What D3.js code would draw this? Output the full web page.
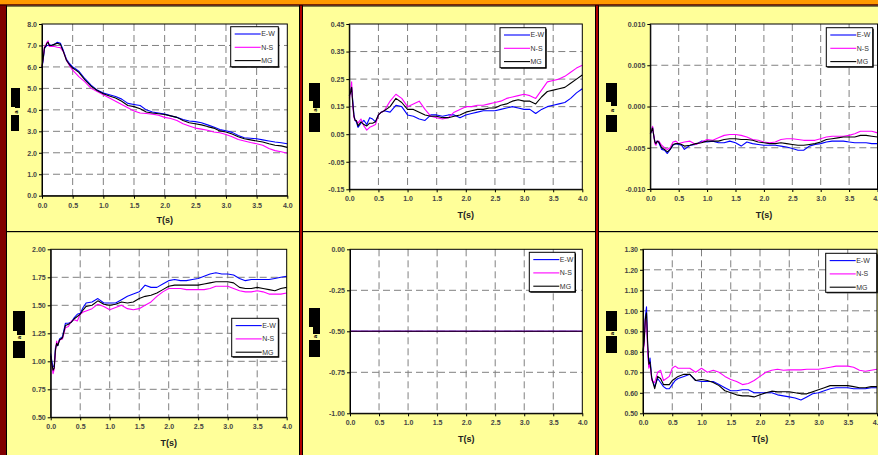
<!DOCTYPE html>
<html>
<head>
<meta charset="utf-8">
<script src="https://cdn.jsdelivr.net/npm/d3@7/dist/d3.min.js"></script>
<style>
  html, body { margin: 0; padding: 0; background: #800000; }
  svg { display: block; }
</style>
</head>
<body>
<svg id="chart" width="878" height="455"></svg>
<script>
// Periods shared by the response curves (s)
const periods = [0, 0.02, 0.04, 0.06, 0.08, 0.1, 0.12, 0.15, 0.2, 0.25, 0.3, 0.35, 0.4, 0.45, 0.5, 0.55,
  0.6, 0.7, 0.8, 0.9, 1.0, 1.1, 1.2, 1.3, 1.4, 1.5, 1.6, 1.7, 1.8, 1.9, 2.0, 2.1, 2.2, 2.3, 2.4, 2.5,
  2.6, 2.7, 2.8, 2.9, 3.0, 3.1, 3.2, 3.3, 3.4, 3.5, 3.6, 3.7, 3.8, 3.9, 4.0];
const periodsFlat = [0, 4.0];

const seriesNames = ["E-W", "N-S", "MG"];
const seriesColors = ["#0000FF", "#FF00FF", "#000000"];

// Panel 1
const ew1 = [5.95,6.35,6.85,6.95,7.0,7.0,7.05,7.0,7.05,7.15,7.1,6.75,6.35,6.15,6.0,5.9,
  5.8,5.45,5.15,4.92,4.78,4.7,4.62,4.5,4.3,4.25,4.2,4.0,3.9,3.85,3.8,3.72,3.65,3.55,3.48,3.45,
  3.4,3.3,3.2,3.08,3.03,2.95,2.8,2.7,2.68,2.65,2.6,2.55,2.5,2.47,2.42];
const ns1 = [6.0,6.45,6.95,7.0,7.15,7.22,6.95,6.95,6.95,6.92,6.9,6.7,6.3,6.05,5.85,5.7,
  5.55,5.3,5.0,4.85,4.7,4.55,4.4,4.25,4.1,3.95,3.85,3.83,3.8,3.75,3.65,3.6,3.5,3.35,3.25,3.15,
  3.1,3.05,2.97,2.93,2.85,2.75,2.62,2.55,2.48,2.42,2.35,2.2,2.1,2.05,1.98];
const mg1 = [6.0,6.4,6.9,6.95,7.1,7.15,7.0,7.0,7.05,7.1,7.05,6.7,6.3,6.1,5.95,5.85,
  5.75,5.4,5.1,4.9,4.75,4.65,4.55,4.4,4.2,4.15,4.05,3.9,3.85,3.82,3.78,3.72,3.65,3.5,3.4,3.35,
  3.3,3.22,3.15,3.02,2.97,2.87,2.75,2.65,2.6,2.55,2.5,2.42,2.35,2.32,2.25];

// Panel 2
const ew2 = [0.19,0.21,0.22,0.17,0.12,0.1,0.095,0.075,0.09,0.1,0.085,0.11,0.105,0.095,0.12,0.13,
  0.135,0.13,0.155,0.15,0.12,0.115,0.105,0.1,0.12,0.12,0.115,0.12,0.12,0.11,0.12,
  0.125,0.13,0.135,0.135,0.135,0.14,0.145,0.15,0.145,0.14,0.14,0.125,0.14,0.15,0.155,
  0.16,0.165,0.18,0.2,0.215];
const ns2 = [0.18,0.2,0.24,0.15,0.11,0.1,0.1,0.09,0.105,0.08,0.065,0.075,0.08,0.085,0.12,0.13,
  0.135,0.17,0.195,0.18,0.15,0.16,0.17,0.14,0.115,0.11,0.105,0.11,0.13,0.14,0.15,
  0.15,0.155,0.155,0.16,0.165,0.17,0.18,0.185,0.19,0.195,0.19,0.18,0.21,0.24,0.245,
  0.25,0.26,0.275,0.29,0.3];
const mg2 = [0.19,0.2,0.22,0.16,0.115,0.1,0.1,0.08,0.095,0.085,0.08,0.09,0.09,0.095,0.12,0.13,
  0.135,0.15,0.18,0.165,0.14,0.14,0.13,0.12,0.115,0.115,0.11,0.11,0.115,0.12,0.13,
  0.135,0.14,0.14,0.145,0.145,0.155,0.16,0.17,0.175,0.17,0.17,0.16,0.185,0.205,0.21,
  0.215,0.22,0.235,0.25,0.265];

// Panel 3
const ew3 = [-0.0033,-0.003,-0.0025,-0.0035,-0.0042,-0.0045,-0.0042,-0.0044,-0.0052,-0.0053,-0.0057,-0.0052,-0.0047,-0.0045,-0.0046,-0.0047,
  -0.0052,-0.0047,-0.0046,-0.0042,-0.0043,-0.0042,-0.0044,-0.0044,-0.0042,-0.0044,
  -0.0048,-0.0043,-0.0045,-0.0046,-0.0047,-0.0047,-0.0047,-0.0048,-0.0049,-0.0051,
  -0.0053,-0.0053,-0.0048,-0.0046,-0.0045,-0.0043,-0.0042,-0.0042,-0.0042,-0.0043,
  -0.0044,-0.0044,-0.0044,-0.0045,-0.0045];
const ns3 = [-0.0033,-0.003,-0.0024,-0.0034,-0.0045,-0.0047,-0.0042,-0.0042,-0.0047,-0.005,-0.0052,-0.005,-0.0043,-0.0042,-0.0045,-0.0044,
  -0.0043,-0.0042,-0.0046,-0.0043,-0.004,-0.0041,-0.0038,-0.0035,-0.0034,-0.0034,
  -0.0035,-0.0037,-0.004,-0.0041,-0.0043,-0.0044,-0.0043,-0.004,-0.0039,-0.0039,
  -0.004,-0.0041,-0.0041,-0.0041,-0.0039,-0.0037,-0.0036,-0.0036,-0.0036,-0.0035,
  -0.0033,-0.003,-0.003,-0.003,-0.0032];
const mg3 = [-0.0033,-0.003,-0.0026,-0.0035,-0.0043,-0.0045,-0.0042,-0.0043,-0.005,-0.0052,-0.0055,-0.0052,-0.0046,-0.0045,-0.0045,-0.0046,
  -0.0048,-0.0047,-0.0045,-0.0044,-0.0042,-0.0042,-0.0042,-0.004,-0.0039,-0.0039,
  -0.004,-0.004,-0.0041,-0.0043,-0.0044,-0.0045,-0.0045,-0.0044,-0.0045,-0.0046,
  -0.0047,-0.0047,-0.0046,-0.0045,-0.0043,-0.004,-0.0039,-0.0038,-0.0037,-0.0037,
  -0.0037,-0.0035,-0.0035,-0.0036,-0.0037];

// Panel 4
const ew4 = [1.07,1.0,0.95,0.96,1.12,1.15,1.14,1.2,1.22,1.34,1.34,1.35,1.39,1.42,1.43,1.48,
  1.52,1.53,1.56,1.52,1.52,1.52,1.55,1.58,1.6,1.62,1.68,1.66,1.66,1.69,1.72,
  1.73,1.72,1.72,1.73,1.74,1.76,1.78,1.79,1.78,1.78,1.77,1.74,1.72,1.73,1.73,
  1.73,1.73,1.74,1.75,1.76];
const ns4 = [1.03,0.97,0.89,0.93,1.08,1.18,1.15,1.19,1.2,1.3,1.31,1.36,1.37,1.36,1.42,1.44,
  1.45,1.47,1.51,1.49,1.46,1.48,1.5,1.47,1.46,1.47,1.5,1.53,1.58,1.62,1.65,
  1.65,1.65,1.64,1.64,1.64,1.64,1.65,1.67,1.67,1.67,1.65,1.63,1.62,1.62,1.63,
  1.62,1.6,1.6,1.6,1.61];
const mg4 = [1.05,0.98,0.92,0.94,1.1,1.16,1.14,1.19,1.21,1.32,1.33,1.35,1.38,1.4,1.42,1.46,
  1.49,1.5,1.54,1.51,1.5,1.51,1.53,1.52,1.53,1.56,1.58,1.59,1.61,1.64,1.67,
  1.68,1.68,1.68,1.68,1.68,1.69,1.7,1.71,1.71,1.71,1.7,1.66,1.65,1.65,1.66,
  1.65,1.64,1.63,1.65,1.66];

// Panel 5
const ew5 = [-0.5, -0.5];
const ns5 = [-0.5, -0.5];
const mg5 = [-0.5, -0.5];

// Panel 6
const ew6 = [0.8,0.86,0.97,1.02,0.82,0.73,0.77,0.67,0.63,0.67,0.65,0.63,0.62,0.62,0.64,0.66,
  0.67,0.68,0.69,0.66,0.655,0.655,0.655,0.64,0.625,0.61,0.61,0.615,0.615,0.6,0.6,
  0.6,0.6,0.59,0.585,0.58,0.575,0.565,0.58,0.595,0.6,0.61,0.62,0.625,0.625,0.625,
  0.62,0.62,0.62,0.625,0.625];
const ns6 = [0.78,0.84,0.96,0.95,0.8,0.72,0.74,0.66,0.65,0.7,0.71,0.66,0.67,0.68,0.72,0.73,
  0.72,0.72,0.72,0.7,0.72,0.7,0.71,0.7,0.68,0.665,0.655,0.64,0.645,0.66,0.68,
  0.7,0.71,0.715,0.71,0.712,0.712,0.712,0.715,0.715,0.715,0.72,0.725,0.73,0.73,0.73,
  0.725,0.71,0.705,0.71,0.715];
const mg6 = [0.8,0.85,0.96,0.99,0.84,0.74,0.75,0.67,0.62,0.68,0.67,0.64,0.64,0.64,0.66,0.67,
  0.68,0.69,0.69,0.66,0.665,0.66,0.65,0.635,0.61,0.6,0.59,0.585,0.585,0.58,0.59,
  0.6,0.608,0.605,0.605,0.605,0.6,0.595,0.595,0.605,0.615,0.625,0.635,0.635,0.635,0.635,
  0.63,0.625,0.625,0.63,0.63];

// Tick values
const xTicks = [0, 0.5, 1.0, 1.5, 2.0, 2.5, 3.0, 3.5, 4.0];
const yTicks1 = [0, 1, 2, 3, 4, 5, 6, 7, 8];
const yTicks2 = [-0.15, -0.05, 0.05, 0.15, 0.25, 0.35, 0.45];
const yTicks3 = [-0.010, -0.005, 0.000, 0.005, 0.010];
const yTicks4 = [0.50, 0.75, 1.00, 1.25, 1.50, 1.75, 2.00];
const yTicks5 = [-1.00, -0.75, -0.50, -0.25, 0.00];
const yTicks6 = [0.50, 0.60, 0.70, 0.80, 0.90, 1.00, 1.10, 1.20, 1.30];
const xTitle = "T(s)";

// Layout of each panel: plot frame, legend box, title baseline, y-title blocks
const panels = [
  { t: periods, s: [ew1, ns1, mg1], yt: yTicks1, fmt: ".1f",
    L: 42, R: 287.3, T: 24, B: 195.7, titleY: 223,
    leg: [230.7, 26.7, 47.6, 40],
    blocks: [[11, 88, 9, 19], [15, 104, 5, 4], [11, 115, 8, 16]], glyph: [15.5, 112] },
  { t: periods, s: [ew2, ns2, mg2], yt: yTicks2, fmt: ".2f",
    L: 349.3, R: 582.3, T: 24, B: 189.3, titleY: 218,
    leg: [500, 27.7, 45.7, 40],
    blocks: [[309, 83, 11, 18], [313, 100, 7, 8], [309, 113, 11, 19]], glyph: [314.5, 110] },
  { t: periods, s: [ew3, ns3, mg3], yt: yTicks3, fmt: ".3f",
    L: 650.3, R: 877.5, T: 24, B: 189, titleY: 218,
    leg: [826.3, 27.7, 46.4, 39],
    blocks: [[606, 83, 11, 19], [611, 101, 6, 5], [606, 115, 11, 17]], glyph: [611.5, 110.5] },
  { t: periods, s: [ew4, ns4, mg4], yt: yTicks4, fmt: ".2f",
    L: 50.7, R: 286.7, T: 249.3, B: 417.3, titleY: 446,
    leg: [231.7, 318.3, 46.6, 38.4],
    blocks: [[13, 311, 12, 20], [17, 330, 8, 5], [13, 341, 12, 17]], glyph: [19, 337.5] },
  { t: periodsFlat, s: [ew5, ns5, mg5], yt: yTicks5, fmt: ".2f",
    L: 350, R: 582.3, T: 249.3, B: 413.3, titleY: 442,
    leg: [529.3, 252.3, 45.7, 39.4],
    blocks: [[309, 308, 11, 19], [313, 326, 7, 8], [309, 340, 11, 17]], glyph: [314.5, 336.5] },
  { t: periods, s: [ew6, ns6, mg6], yt: yTicks6, fmt: ".2f",
    L: 643, R: 877, T: 249.3, B: 413.3, titleY: 442,
    leg: [825.7, 253.3, 51, 39],
    blocks: [[606, 311, 11, 20], [606, 336, 11, 17]], glyph: [611.5, 333.5] }
];

const svg = d3.select("#chart");
const W = 878, H = 455;
const FONT = "'Liberation Sans', Arial, sans-serif";

// Frame: dark red field, orange top band, yellow chart cells with dividers
svg.append("rect").attr("width", W).attr("height", H).attr("fill", "#800000");
svg.append("rect").attr("width", W).attr("height", 4.5).attr("fill", "#FF9900");
svg.append("rect").attr("y", 4.5).attr("width", W).attr("height", 1.2).attr("fill", "#3a0000");
const cells = [[7, 5.7, 292, 225.3], [303, 5.7, 292, 225.3], [599, 5.7, 279, 225.3],
               [7, 232, 292, 223], [303, 232, 292, 223], [599, 232, 279, 223]];
svg.selectAll("rect.cell").data(cells).join("rect").attr("class", "cell")
  .attr("x", d => d[0]).attr("y", d => d[1]).attr("width", d => d[2]).attr("height", d => d[3])
  .attr("fill", "#FFFF99");
svg.append("rect").attr("x", 6).attr("y", 5.7).attr("width", 1).attr("height", H).attr("fill", "#000");
svg.append("rect").attr("x", 7).attr("y", 5.7).attr("width", W).attr("height", 0.8).attr("fill", "#000");
svg.append("rect").attr("x", 7).attr("y", 231).attr("width", W).attr("height", 1.2).attr("fill", "#000");
[299, 595].forEach(x0 => {
  svg.append("rect").attr("x", x0).attr("y", 5.7).attr("width", 4).attr("height", H).attr("fill", "#000");
  svg.append("rect").attr("x", x0 + 1).attr("y", 5.7).attr("width", 2).attr("height", H).attr("fill", "#B00000");
});

const fixMinus = s => s.replace("\u2212", "-");

panels.forEach(p => {
  const g = svg.append("g");
  const x = d3.scaleLinear().domain([0, 4]).range([p.L, p.R]);
  const yDom = d3.extent(p.yt);
  const y = d3.scaleLinear().domain(yDom).range([p.B, p.T]);

  // plot area
  g.append("rect").attr("x", p.L).attr("y", p.T).attr("width", p.R - p.L).attr("height", p.B - p.T)
    .attr("fill", "#fff");

  // dashed grid
  g.selectAll("line.hg").data(p.yt.filter(v => v !== yDom[0] && v !== yDom[1])).join("line")
    .attr("x1", p.L).attr("x2", p.R).attr("y1", d => y(d)).attr("y2", d => y(d))
    .attr("stroke", "#808080").attr("stroke-width", 1).attr("stroke-dasharray", "7,4");
  g.selectAll("line.vg").data(xTicks.filter(v => v !== 0 && v !== 4)).join("line")
    .attr("y1", p.T).attr("y2", p.B).attr("x1", d => x(d)).attr("x2", d => x(d))
    .attr("stroke", "#808080").attr("stroke-width", 1).attr("stroke-dasharray", "7,4");

  // curves
  const line = d3.line().x((d, i) => x(p.t[i])).y(d => y(d));
  p.s.forEach((vals, k) => {
    g.append("path").attr("d", line(vals)).attr("fill", "none")
      .attr("stroke", seriesColors[k]).attr("stroke-width", 1.1).attr("stroke-linejoin", "round");
  });

  // frame
  g.append("rect").attr("x", p.L).attr("y", p.T).attr("width", p.R - p.L).attr("height", p.B - p.T)
    .attr("fill", "none").attr("stroke", "#000").attr("stroke-width", 1);

  // axes
  const fy = d3.format(p.fmt);
  const ay = g.append("g").attr("transform", `translate(${p.L},0)`)
    .call(d3.axisLeft(y).tickValues(p.yt).tickSize(3).tickSizeOuter(0).tickPadding(2)
      .tickFormat(d => fixMinus(fy(d))));
  const ax = g.append("g").attr("transform", `translate(0,${p.B})`)
    .call(d3.axisBottom(x).tickValues(xTicks).tickSize(3).tickSizeOuter(0).tickPadding(4)
      .tickFormat(d => d3.format(".1f")(d)));
  [ay, ax].forEach(a => {
    a.select(".domain").attr("stroke", "#000");
    a.selectAll(".tick line").attr("stroke", "#000");
    a.selectAll(".tick text").attr("font-family", FONT).attr("font-size", 7)
      .attr("font-weight", "bold").attr("fill", "#444");
  });

  // x title
  g.append("text").attr("x", (p.L + p.R) / 2).attr("y", p.titleY).attr("text-anchor", "middle")
    .attr("font-family", FONT).attr("font-size", 9).attr("font-weight", "bold").attr("fill", "#222")
    .text(xTitle);

  // y title (rendered as solid glyph blocks)
  g.selectAll("rect.blk").data(p.blocks).join("rect")
    .attr("x", d => d[0]).attr("y", d => d[1]).attr("width", d => d[2]).attr("height", d => d[3])
    .attr("fill", "#000");
  g.append("text").attr("transform", `translate(${p.glyph[0]},${p.glyph[1]}) rotate(-90)`)
    .attr("text-anchor", "middle").attr("dy", "0.35em")
    .attr("font-family", FONT).attr("font-size", 6).attr("font-weight", "bold").attr("fill", "#000")
    .text("a");

  // legend
  const [lx, ly, lw, lh] = p.leg;
  g.append("rect").attr("x", lx + 1).attr("y", ly + 1).attr("width", lw).attr("height", lh).attr("fill", "#000");
  g.append("rect").attr("x", lx).attr("y", ly).attr("width", lw).attr("height", lh)
    .attr("fill", "#fff").attr("stroke", "#000").attr("stroke-width", 1);
  seriesNames.forEach((name, k) => {
    const ry = ly + 7.3 + k * 13.3;
    g.append("line").attr("x1", lx + 4).attr("x2", lx + 30).attr("y1", ry).attr("y2", ry)
      .attr("stroke", seriesColors[k]).attr("stroke-width", 1.1);
    g.append("text").attr("x", lx + 30.5).attr("y", ry).attr("dy", "0.35em")
      .attr("font-family", FONT).attr("font-size", 7).attr("fill", "#333").text(name);
  });
});
</script>
</body>
</html>
